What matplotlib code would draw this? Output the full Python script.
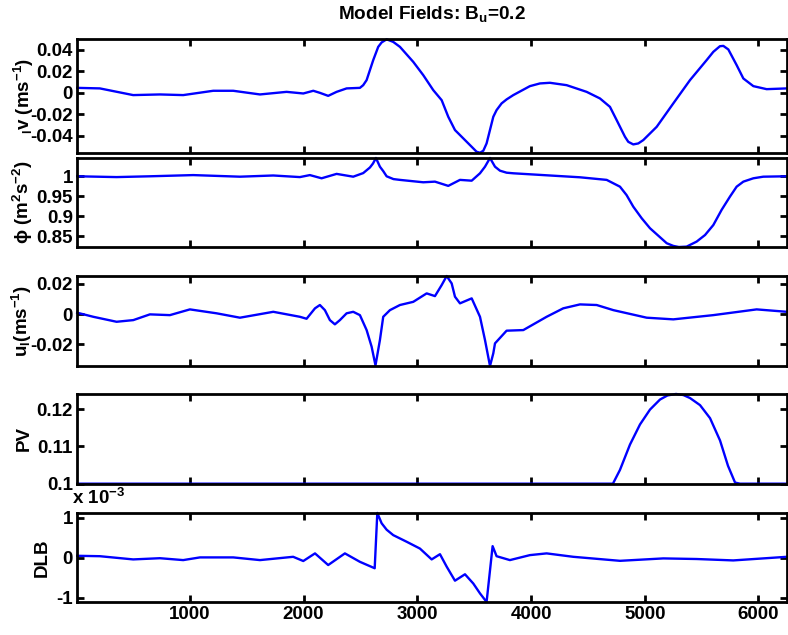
import matplotlib
matplotlib.use("Agg")
import matplotlib.pyplot as plt

plt.rcParams['font.family'] = ['Liberation Sans', 'DejaVu Sans']
plt.rcParams['font.weight'] = 'bold'
plt.rcParams['mathtext.fontset'] = 'custom'
plt.rcParams['mathtext.rm'] = 'Liberation Sans:bold'
plt.rcParams['mathtext.bf'] = 'Liberation Sans:bold'
plt.rcParams['mathtext.it'] = 'Liberation Sans:bold'
plt.rcParams['mathtext.default'] = 'bf'

FS = 13.5

# meridional velocity v
v_x = [9, 208, 501, 736, 941, 1205, 1381, 1616, 1850, 1997, 2085, 2143, 2216,
       2290, 2378, 2495, 2524, 2554, 2612, 2656, 2686, 2730, 2788, 2847, 2964,
       3052, 3140, 3214, 3272, 3331, 3404, 3492, 3521, 3551, 3580, 3609, 3668,
       3697, 3741, 3785, 3844, 3990, 4078, 4166, 4313, 4489, 4606, 4694, 4753,
       4826, 4855, 4899, 4943, 4987, 5105, 5251, 5398, 5544, 5603, 5661, 5691,
       5735, 5808, 5867, 5955, 6072, 6250]
v_y = [0.0046, 0.0041, -0.0021, -0.0015, -0.0021, 0.0019, 0.0019, -0.0015,
       0.0009, -0.0006, 0.0019, 0.0, -0.0028, 0.0009, 0.0041, 0.0046, 0.0071,
       0.0118, 0.0303, 0.0426, 0.0467, 0.0496, 0.0472, 0.0426, 0.0287, 0.0164,
       0.0025, -0.0068, -0.0222, -0.0345, -0.0422, -0.0515, -0.0546, -0.0555,
       -0.0537, -0.0469, -0.0222, -0.016, -0.0098, -0.0061, -0.0021, 0.0062,
       0.0087, 0.0093, 0.0071, 0.0009, -0.0052, -0.0130, -0.0253, -0.0407,
       -0.0454, -0.0478, -0.0469, -0.0438, -0.0315, -0.0098, 0.0118, 0.0303,
       0.038, 0.0432, 0.0435, 0.0402, 0.0257, 0.0133, 0.0062, 0.0034, 0.0041]

# geopotential phi
phi_x = [9, 355, 648, 1029, 1440, 1733, 1967, 2055, 2158, 2290, 2436, 2524,
         2583, 2610, 2636, 2671, 2700, 2730, 2790, 2847, 3052, 3155, 3272,
         3375, 3478, 3551, 3595, 3639, 3683, 3727, 3785, 3844, 4137, 4430,
         4665, 4782, 4840, 4899, 4973, 5046, 5193, 5251, 5300, 5368, 5456,
         5530, 5603, 5676, 5749, 5808, 5867, 5955, 6042, 6250]
phi_y = [1.0, 0.998, 1.0, 1.003, 0.999, 1.002, 0.998, 1.003, 0.995, 1.006,
         0.999, 1.008, 1.022, 1.032, 1.0458, 1.024, 1.013, 1.0, 0.993, 0.991,
         0.985, 0.9866, 0.976, 0.991, 0.989, 1.0075, 1.024, 1.0458, 1.024,
         1.014, 1.009, 1.0075, 1.0025, 0.9975, 0.991, 0.974, 0.953, 0.924,
         0.895, 0.870, 0.8325, 0.8258, 0.823, 0.824, 0.8365, 0.853, 0.878,
         0.916, 0.949, 0.974, 0.9866, 0.995, 0.999, 1.0]

# zonal velocity u
u_x = [9, 150, 355, 502, 648, 824, 1000, 1235, 1440, 1733, 1967, 2026, 2100,
       2143, 2187, 2231, 2275, 2319, 2378, 2436, 2495, 2554, 2598, 2632, 2671,
       2700, 2759, 2847, 2964, 3082, 3155, 3214, 3258, 3302, 3331, 3375, 3478,
       3551, 3595, 3639, 3668, 3683, 3785, 3932, 4137, 4283, 4430, 4577, 4724,
       5017, 5251, 5603, 5984, 6250]
u_y = [0.0009, -0.0018, -0.0051, -0.004, -0.0002, -0.0007, 0.0031, 0.0005,
       -0.0024, 0.0015, -0.0018, -0.0031, 0.0038, 0.006, 0.0026, -0.004,
       -0.0068, -0.004, 0.0005, 0.0015, -0.0007, -0.0106, -0.0216, -0.0340,
       -0.0172, -0.0018, 0.0026, 0.006, 0.0081, 0.0137, 0.0119, 0.0192,
       0.0252, 0.0203, 0.0115, 0.0071, 0.0104, -0.0018, -0.0172, -0.0344,
       -0.026, -0.0194, -0.011, -0.0106, -0.0018, 0.0038, 0.0064, 0.006,
       0.0026, -0.0024, -0.0035, -0.0007, 0.0031, 0.0015]

# potential vorticity
pv_x = [9, 4720, 4782, 4870, 4958, 5046, 5134, 5200, 5275, 5340, 5398, 5486,
        5574, 5662, 5732, 5794, 5838, 6250]
pv_y = [0.1, 0.1, 0.1037, 0.1105, 0.1159, 0.1199, 0.1226, 0.1237, 0.1241,
        0.1238, 0.123, 0.1211, 0.1176, 0.1116, 0.1048, 0.1003, 0.1, 0.1]

# DLB, in units of 1e-3
dlb_x = [9, 208, 501, 736, 941, 1088, 1381, 1616, 1908, 1997, 2100, 2216,
         2363, 2495, 2625, 2648, 2686, 2730, 2788, 2906, 3023, 3126, 3199,
         3258, 3331, 3419, 3492, 3551, 3609, 3662, 3697, 3814, 3990, 4137,
         4371, 4782, 5163, 5456, 5778, 6250]
dlb_y = [0.05, 0.04, -0.04, -0.01, -0.057, 0.01, 0.01, -0.057, 0.025, -0.08,
         0.11, -0.18, 0.11, -0.1, -0.26, 1.117, 0.86, 0.70, 0.565, 0.40, 0.23,
         -0.04, 0.09, -0.22, -0.57, -0.41, -0.64, -0.886, -1.1, 0.29, 0.04,
         -0.057, 0.067, 0.11, 0.025, -0.075, -0.015, -0.03, -0.065, 0.025]

x_ticks = [1000, 2000, 3000, 4000, 5000, 6000]
panels = [
    (v_x, v_y, (-0.0555, 0.0496), [-0.04, -0.02, 0, 0.02, 0.04],
     ['-0.04', '-0.02', '0', '0.02', '0.04'], '$_l$v (ms$^{-1}$)', -0.058),
    (phi_x, phi_y, (0.823, 1.0458), [0.85, 0.9, 0.95, 1],
     ['0.85', '0.9', '0.95', '1'], 'ϕ (m$^2$s$^{-2}$)', -0.059),
    (u_x, u_y, (-0.0344, 0.0254), [-0.02, 0, 0.02],
     ['-0.02', '0', '0.02'], 'u$_l$(ms$^{-1}$)', -0.061),
    (pv_x, pv_y, (0.1, 0.1241), [0.1, 0.11, 0.12],
     ['0.1', '0.11', '0.12'], 'PV', -0.062),
    (dlb_x, dlb_y, (-1.1, 1.117), [-1, 0, 1],
     ['-1', '0', '1'], 'DLB', -0.038),
]

# axes boxes [left, bottom, width, height]
boxes = [
    [0.098, 0.7595, 0.9006, 0.1786],
    [0.098, 0.611, 0.9006, 0.1402],
    [0.098, 0.4236, 0.9006, 0.1422],
    [0.098, 0.2383, 0.9006, 0.1413],
    [0.098, 0.052, 0.9006, 0.1402],
]

fig = plt.figure(figsize=(7.88, 6.35), dpi=100)
axes = []
for i, (px, py, ylim, yt, ytl, lab, labx) in enumerate(panels):
    ax = fig.add_axes(boxes[i])
    ax.plot(px, py, color='#0000ff', linewidth=1.7, clip_on=False)
    ax.set_xlim(9, 6250)
    ax.set_ylim(*ylim)
    ax.set_xticks(x_ticks)
    ax.set_yticks(yt)
    ax.set_yticklabels(ytl, fontsize=FS, fontweight='bold')
    if i < 4:
        ax.set_xticklabels([])
    else:
        ax.set_xticklabels([str(t) for t in x_ticks], fontsize=FS,
                           fontweight='bold')
    ax.tick_params(direction='in', length=5, width=2, top=True, right=True,
                   pad=3)
    for s in ax.spines.values():
        s.set_linewidth(2)
    ax.set_ylabel(lab, fontsize=FS, fontweight='bold')
    ax.yaxis.set_label_coords(labx, 0.5)
    axes.append(ax)

axes[4].text(-0.008, 1.06, 'x 10$^{-3}$', transform=axes[4].transAxes,
             fontsize=FS, fontweight='bold', va='bottom', ha='left')

fig.text(0.548, 1 - 19.5 / 635, 'Model Fields: B$_u$=0.2', fontsize=13.7,
         fontweight='bold', ha='center', va='baseline')

fig.savefig('out.png', dpi=100)
